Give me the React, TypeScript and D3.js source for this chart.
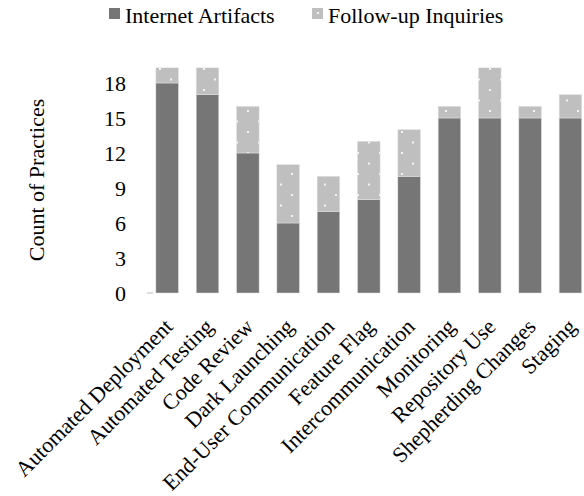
import React, { useRef, useEffect } from 'react'
import * as d3 from 'd3'

const categories = [
  'Automated Deployment',
  'Automated Testing',
  'Code Review',
  'Dark Launching',
  'End-User Communication',
  'Feature Flag',
  'Intercommunication',
  'Monitoring',
  'Repository Use',
  'Shepherding Changes',
  'Staging',
]
// values above the axis top (19.3) are cut off in the picture
const internetArtifacts = [18, 17, 12, 6, 7, 8, 10, 15, 15, 15, 15]
const followUpInquiries = [2, 3, 4, 5, 3, 5, 4, 1, 5, 1, 2]
const yTicks = [0, 3, 6, 9, 12, 15, 18]
const seriesNames = ['Internet Artifacts', 'Follow-up Inquiries']

const width = 584
const height = 496
const font = '"Liberation Serif", "Times New Roman", serif'
const darkFill = '#767676'
const lightFill = '#bfbfbf'

export default function App() {
  const svgRef = useRef<SVGSVGElement>(null)

  useEffect(() => {
    if (!svgRef.current) return
    d3.select(svgRef.current).selectAll('*').remove()

    const svg = d3.select(svgRef.current)
      .attr('font-family', font)

    const x = d3.scaleBand<string>()
      .domain(categories)
      .range([147, 590.6])
      .paddingInner(0.44)
      .paddingOuter(0.22)

    const y = d3.scaleLinear()
      .domain([0, 19.3])
      .range([293, 67.8])

    // dotted pattern for the follow-up segments
    const defs = svg.append('defs')
    const pattern = defs.append('pattern')
      .attr('id', 'dots')
      .attr('patternUnits', 'userSpaceOnUse')
      .attr('width', 22)
      .attr('height', 21)
    pattern.append('rect')
      .attr('width', 22)
      .attr('height', 21)
      .attr('fill', lightFill)
    pattern.append('rect')
      .attr('x', 5).attr('y', 5)
      .attr('width', 2).attr('height', 2)
      .attr('fill', '#f4f4f4')
    pattern.append('rect')
      .attr('x', 16).attr('y', 15.5)
      .attr('width', 2).attr('height', 2)
      .attr('fill', '#f4f4f4')

    defs.append('clipPath')
      .attr('id', 'plot')
      .append('rect')
      .attr('x', 140)
      .attr('y', y(19.3))
      .attr('width', 450)
      .attr('height', y(0) - y(19.3) + 2)

    const bars = svg.append('g').attr('clip-path', 'url(#plot)')

    bars.selectAll('rect.dark')
      .data(categories)
      .join('rect')
      .attr('class', 'dark')
      .attr('x', d => x(d)!)
      .attr('width', x.bandwidth())
      .attr('y', (d, i) => y(internetArtifacts[i]))
      .attr('height', (d, i) => y(0) - y(internetArtifacts[i]))
      .attr('fill', darkFill)
      .attr('stroke', '#e2e2e2')
      .attr('stroke-width', 0.5)

    bars.selectAll('rect.light')
      .data(categories)
      .join('rect')
      .attr('class', 'light')
      .attr('x', d => x(d)!)
      .attr('width', x.bandwidth())
      .attr('y', (d, i) => y(internetArtifacts[i] + followUpInquiries[i]))
      .attr('height', (d, i) => y(internetArtifacts[i]) - y(internetArtifacts[i] + followUpInquiries[i]))
      .attr('fill', 'url(#dots)')
      .attr('stroke', '#e2e2e2')
      .attr('stroke-width', 0.5)

    // y axis: labels only, one tick at zero
    svg.append('line')
      .attr('x1', 147).attr('x2', 153)
      .attr('y1', y(0)).attr('y2', y(0))
      .attr('stroke', '#bbb')

    svg.append('g')
      .selectAll('text')
      .data(yTicks)
      .join('text')
      .attr('x', 126)
      .attr('y', d => y(d) + 8)
      .attr('text-anchor', 'end')
      .attr('font-size', 22)
      .attr('fill', '#000')
      .text(d => d)

    svg.append('text')
      .attr('transform', `translate(44, 180) rotate(-90)`)
      .attr('text-anchor', 'middle')
      .attr('font-size', 22)
      .text('Count of Practices')

    // rotated category labels
    svg.append('g')
      .selectAll('text')
      .data(categories)
      .join('text')
      .attr('transform', d => `translate(${x(d)! + x.bandwidth() / 2 + 7}, 328) rotate(-45)`)
      .attr('text-anchor', 'end')
      .attr('font-size', 22)
      .text(d => d)

    // legend
    const legend = svg.append('g')
    const legendX = [109, 312]
    seriesNames.forEach((name, i) => {
      legend.append('rect')
        .attr('x', legendX[i])
        .attr('y', 8)
        .attr('width', 11)
        .attr('height', 11)
        .attr('fill', i === 0 ? darkFill : lightFill)
      if (i === 1) {
        legend.append('rect')
          .attr('x', legendX[i] + 5).attr('y', 12)
          .attr('width', 2).attr('height', 2)
          .attr('fill', '#f4f4f4')
      }
      legend.append('text')
        .attr('x', legendX[i] + 16)
        .attr('y', 23)
        .attr('font-size', 22)
        .text(name)
    })
  }, [])

  return (
    <svg
      ref={svgRef}
      width={width}
      height={height}
      style={{ position: 'absolute', left: 0, top: 0, background: '#fff' }}
    />
  )
}
